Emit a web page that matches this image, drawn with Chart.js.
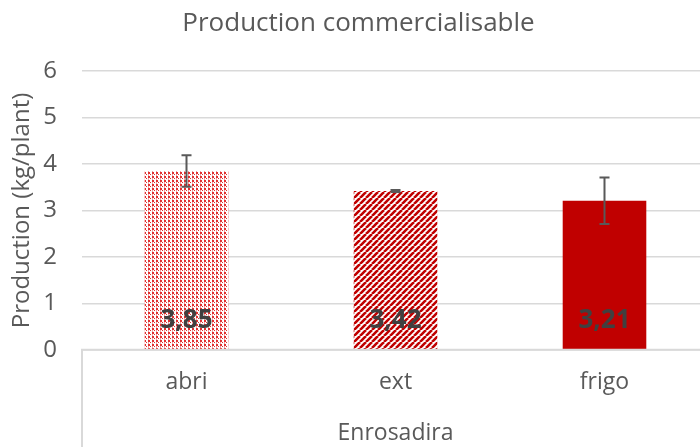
<!DOCTYPE html>
<html>
<head>
<meta charset="utf-8">
<script src="https://cdn.jsdelivr.net/npm/chart.js@4.4.0/dist/chart.umd.min.js"></script>
<style>
  html, body { margin: 0; padding: 0; background: #fff; overflow: hidden; }
  #wrap { width: 709px; height: 447px; position: relative; }
</style>
</head>
<body>
<div id="wrap"><canvas id="c"></canvas></div>
<script>
const categories = ["abri", "ext", "frigo"];
const values = [3.85, 3.42, 3.21];
const errors = [0.34, 0.02, 0.5];
const yTicks = [0, 1, 2, 3, 4, 5, 6];
const chartTitle = "Production commercialisable";
const yTitle = "Production (kg/plant)";
const xTitle = "Enrosadira";

const RED = "#C00000";
const FONT = "'Open Sans', sans-serif";

function dotPattern() {
  const c = document.createElement("canvas");
  c.width = 4; c.height = 4;
  const g = c.getContext("2d");
  g.fillStyle = "#fff"; g.fillRect(0, 0, 4, 4);
  g.fillStyle = "#e03030";
  g.fillRect(0, 0, 2, 2);
  g.fillRect(2, 2, 1, 1);
  g.fillStyle = "#f0a0a0";
  g.fillRect(0, 2, 1, 2);
  return g.createPattern(c, "repeat");
}
function stripePattern() {
  const s = 6;
  const c = document.createElement("canvas");
  c.width = s; c.height = s;
  const g = c.getContext("2d");
  g.fillStyle = "#fff"; g.fillRect(0, 0, s, s);
  g.strokeStyle = RED; g.lineWidth = 2.6;
  g.beginPath();
  for (let k = -1; k <= 1; k++) {
    g.moveTo(k * s, s); g.lineTo(k * s + s, 0);
  }
  g.stroke();
  return g.createPattern(c, "repeat");
}

const errorBars = {
  id: "errorBars",
  afterDatasetsDraw(chart) {
    const ctx = chart.ctx;
    const meta = chart.getDatasetMeta(0);
    const y = chart.scales.y;
    ctx.save();
    ctx.strokeStyle = "#595959";
    ctx.lineWidth = 2;
    meta.data.forEach((bar, i) => {
      const top = y.getPixelForValue(values[i] + errors[i]);
      const bot = y.getPixelForValue(values[i] - errors[i]);
      const x = bar.x;
      ctx.beginPath();
      ctx.moveTo(x, top); ctx.lineTo(x, bot);
      ctx.moveTo(x - 5, top); ctx.lineTo(x + 5, top);
      ctx.moveTo(x - 5, bot); ctx.lineTo(x + 5, bot);
      ctx.stroke();
    });
    ctx.fillStyle = "#404040";
    ctx.font = "bold 26px " + FONT;
    ctx.textAlign = "center";
    ctx.textBaseline = "middle";
    meta.data.forEach((bar, i) => {
      ctx.fillText(values[i].toFixed(2).replace(".", ","), bar.x, bar.base - 28);
    });
    ctx.restore();
  },
  afterDraw(chart) {
    const ctx = chart.ctx;
    const a = chart.chartArea;
    ctx.save();
    ctx.strokeStyle = "#d9d9d9";
    ctx.lineWidth = 2;
    ctx.beginPath();
    ctx.moveTo(a.left, chart.height);
    ctx.lineTo(a.left, a.bottom);
    ctx.lineTo(a.right, a.bottom);
    ctx.stroke();
    ctx.restore();
  }
};

new Chart(document.getElementById("c"), {
  type: "bar",
  data: {
    labels: categories,
    datasets: [{
      data: values,
      backgroundColor: [dotPattern(), stripePattern(), RED],
      borderWidth: 0,
      barPercentage: 0.8,
      categoryPercentage: 0.5
    }]
  },
  options: {
    responsive: true,
    maintainAspectRatio: false,
    animation: false,
    layout: { padding: { left: 8, right: 0, top: 0, bottom: 0 } },
    plugins: {
      legend: { display: false },
      tooltip: { enabled: false },
      title: {
        display: true, text: chartTitle, color: "#595959",
        font: { family: FONT, size: 26, weight: "normal" },
        padding: { top: 8, bottom: 32 }
      }
    },
    scales: {
      x: {
        grid: { display: false, drawTicks: false },
        border: { display: false },
        ticks: { color: "#595959", font: { family: FONT, size: 23 }, padding: 19 },
        title: {
          display: true, text: xTitle, color: "#595959",
          font: { family: FONT, size: 23 }, padding: { top: 4, bottom: 0 }
        }
      },
      y: {
        min: 0, max: 6,
        afterBuildTicks(scale) { scale.ticks = yTicks.map(v => ({ value: v })); },
        afterFit(scale) { scale.width = 74; },
        grid: { color: "#d9d9d9", lineWidth: 1.5, drawTicks: false },
        border: { display: false },
        ticks: { color: "#595959", font: { family: FONT, size: 24 }, padding: 25 },
        title: {
          display: true, text: yTitle, color: "#595959",
          font: { family: FONT, size: 24 }, padding: { top: 0, bottom: 4 }
        }
      }
    }
  },
  plugins: [errorBars]
});
</script>
</body>
</html>
